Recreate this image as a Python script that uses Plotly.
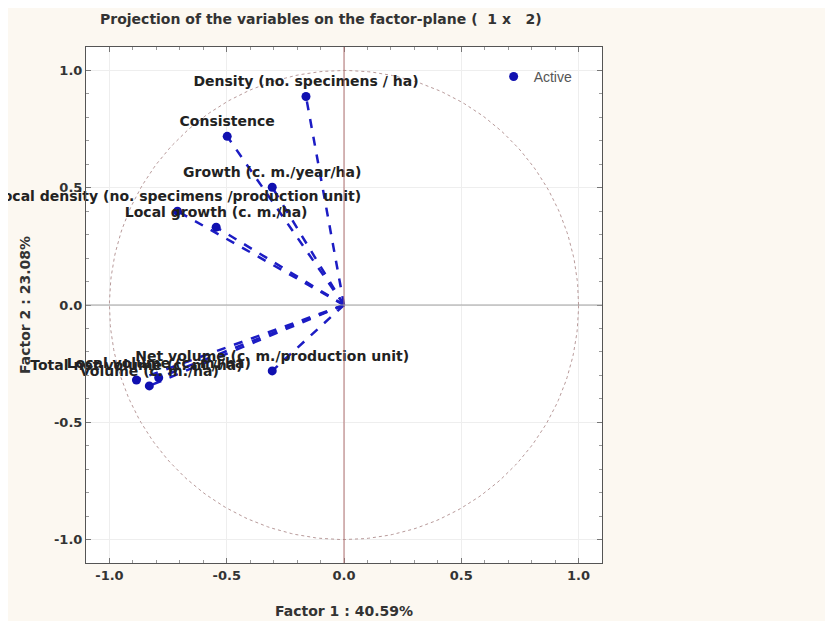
"""
Projection of the variables on the factor-plane (1 x 2)
"""
import numpy as np
import plotly.graph_objects as go

variables = [
    "Density (no. specimens / ha)",
    "Consistence",
    "Growth (c. m./year/ha)",
    "Local density (no. specimens /production unit)",
    "Local growth (c. m./ha)",
    "Total net volume (c. m./ha)",
    "Local volume (c. m./ha)",
    "Volume (c. m./ha)",
    "Net volume (c. m./production unit)",
]
factor1 = [-0.162, -0.498, -0.306, -0.71, -0.545, -0.885, -0.79, -0.83, -0.306]
factor2 = [0.889, 0.719, 0.502, 0.40, 0.332, -0.32, -0.31, -0.345, -0.281]

pct1 = 40.59
pct2 = 23.08

FONT = "DejaVu Sans"

fig = go.Figure()

# unit circle
t = np.linspace(0, 2 * np.pi, 361)
fig.add_trace(go.Scatter(x=np.cos(t), y=np.sin(t), mode="lines",
                         line=dict(color="#b89a9a", width=1, dash="dot"),
                         hoverinfo="skip", showlegend=False))

# axis lines through origin
fig.add_shape(type="line", x0=0, x1=0, y0=-1.1, y1=1.1,
              line=dict(color="#b07070", width=1))
fig.add_shape(type="line", x0=-1.1, x1=1.1, y0=0, y1=0,
              line=dict(color="#a0a0a0", width=1))

# vectors from origin
for x, y in zip(factor1, factor2):
    fig.add_trace(go.Scatter(x=[0, x], y=[0, y], mode="lines",
                             line=dict(color="#1c1cc4", width=2.5, dash="dash"),
                             hoverinfo="skip", showlegend=False))

fig.add_trace(go.Scatter(
    x=factor1, y=factor2, mode="markers+text", name="Active",
    text=variables, textposition="top center", cliponaxis=False,
    textfont=dict(family=FONT, size=14, color="#222222", weight="bold"),
    marker=dict(color="#1010b0", size=9),
))

axis_common = dict(
    range=[-1.1, 1.1], tickvals=[-1.0, -0.5, 0.0, 0.5, 1.0],
    ticktext=["-1.0", "-0.5", "0.0", "0.5", "1.0"],
    showgrid=True, gridcolor="#eeeeee", zeroline=False, automargin=False,
    showline=True, linecolor="#555555", linewidth=1, mirror="ticks",
    ticks="inside", ticklen=5, tickcolor="#777777",
    minor=dict(dtick=0.1, ticks="inside", ticklen=3, tickcolor="#999999", showgrid=False),
    tickfont=dict(family=FONT, size=13, color="#333333", weight="bold"),
)

fig.update_xaxes(**axis_common,
                 title=dict(text=f"Factor 1 : {pct1:.2f}%", standoff=24,
                            font=dict(family=FONT, size=14, color="#333333", weight="bold")))
fig.update_yaxes(**axis_common,
                 title=dict(text=f"Factor 2 : {pct2:.2f}%", standoff=20,
                            font=dict(family=FONT, size=14, color="#333333", weight="bold")))

fig.update_layout(
    width=833, height=621,
    margin=dict(l=78, r=239, t=39, b=66),
    paper_bgcolor="#fcf8f1", plot_bgcolor="#ffffff",
    font=dict(family=FONT, size=12, color="#333333"),
    title=dict(text="Projection of the variables on the factor-plane (  1 x   2)",
               x=92 / 833, xanchor="left", y=1 - 11 / 621, yanchor="middle",
               automargin=False,
               font=dict(family=FONT, size=14, color="#333333", weight="bold")),
    legend=dict(x=0.79, y=0.973, xanchor="left", yanchor="top",
                bgcolor="rgba(0,0,0,0)",
                font=dict(family="Liberation Sans", size=14, color="#555555")),
    showlegend=True,
)

fig.write_html("out.html")
